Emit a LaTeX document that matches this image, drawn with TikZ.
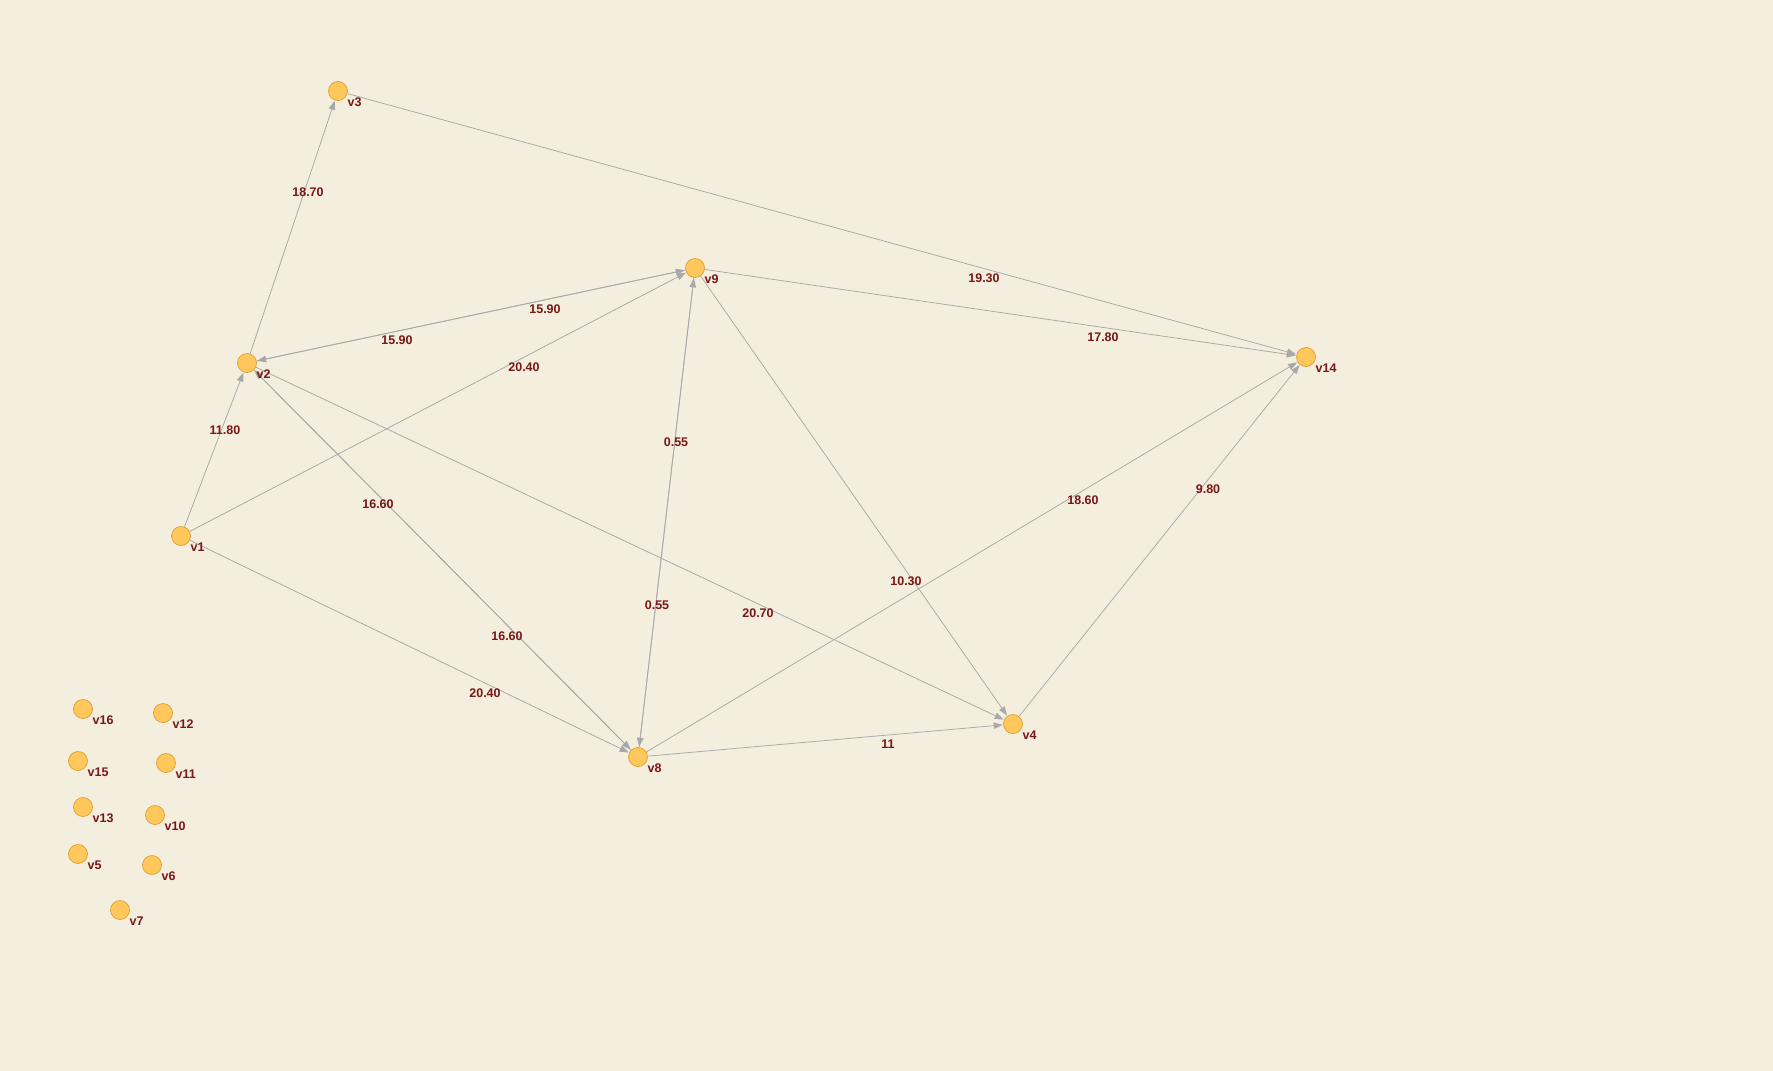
\documentclass[tikz,border=0pt]{standalone}
\usepackage{fontspec}
\setmainfont{Liberation Sans}
\usetikzlibrary{arrows.meta}
\definecolor{bg}{HTML}{F3EEDD}
\definecolor{nfill}{HTML}{FFC75C}
\definecolor{ndraw}{HTML}{DE9E2E}
\definecolor{lbl}{HTML}{7A1717}
\definecolor{edge}{HTML}{A8A8A8}
\tikzset{
  vert/.style={circle,fill=nfill,draw=ndraw,line width=0.7pt,minimum size=19pt,inner sep=0pt},
  vlab/.style={anchor=west,text=lbl,font=\fontsize{12.5}{14}\selectfont\bfseries,inner sep=0pt},
  elab/.style={text=lbl,font=\fontsize{12.5}{14}\selectfont\bfseries,inner sep=0pt},
  conn/.style={draw=edge,line width=0.75pt,-{Triangle[length=9pt,width=6.5pt]},shorten >=0.5pt}
}
\begin{document}
\begin{tikzpicture}[x=1pt,y=-1pt]
\fill[bg] (0,0) rectangle (1773,1071);
\useasboundingbox (0,0) rectangle (1773,1071);
% vertices
\node[vert] (v3) at (338,91) {};
\node[vert] (v2) at (247,363) {};
\node[vert] (v9) at (695,268) {};
\node[vert] (v14) at (1306,357) {};
\node[vert] (v1) at (181,536) {};
\node[vert] (v8) at (638,757) {};
\node[vert] (v4) at (1013,724) {};
\node[vert] (v16) at (83,709) {};
\node[vert] (v12) at (163,713) {};
\node[vert] (v15) at (78,761) {};
\node[vert] (v11) at (166,763) {};
\node[vert] (v13) at (83,807) {};
\node[vert] (v10) at (155,815) {};
\node[vert] (v5) at (78,854) {};
\node[vert] (v6) at (152,865) {};
\node[vert] (v7) at (120,910) {};
% edges
\draw[conn] (v2) -- (v3);
\draw[conn] (v1) -- (v2);
\draw[conn] (v9) -- (v2);
\draw[conn] (v2) -- (v9);
\draw[conn] (v1) -- (v9);
\draw[conn] (v3) -- (v14);
\draw[conn] (v9) -- (v14);
\draw[conn] (v9) -- (v8);
\draw[conn] (v8) -- (v9);
\draw[conn] (v2) -- (v8);
\draw[conn] (v8) -- (v2);
\draw[conn] (v2) -- (v4);
\draw[conn] (v1) -- (v8);
\draw[conn] (v9) -- (v4);
\draw[conn] (v8) -- (v14);
\draw[conn] (v4) -- (v14);
\draw[conn] (v8) -- (v4);
% vertex labels
\foreach \v in {v3,v2,v9,v14,v1,v8,v4,v16,v12,v15,v11,v13,v10,v5,v6,v7}{
  \node[vlab] (l\v) at ([shift={(9.5,11)}]\v.center) {\v};
}
% edge labels
\node[elab] (e1) at (308,192) {18.70};
\node[elab] (e2) at (225,430) {11.80};
\node[elab] (e3) at (397,340) {15.90};
\node[elab] (e4) at (545,309) {15.90};
\node[elab] (e5) at (524,367) {20.40};
\node[elab] (e6) at (984,278) {19.30};
\node[elab] (e7) at (1103,337) {17.80};
\node[elab] (e8) at (676,442) {0.55};
\node[elab] (e9) at (657,605) {0.55};
\node[elab] (e10) at (378,504) {16.60};
\node[elab] (e11) at (507,636) {16.60};
\node[elab] (e12) at (758,613) {20.70};
\node[elab] (e13) at (485,693) {20.40};
\node[elab] (e14) at (906,581) {10.30};
\node[elab] (e15) at (1083,500) {18.60};
\node[elab] (e16) at (1208,489) {9.80};
\node[elab] (e17) at (888,744) {11};
\end{tikzpicture}
\end{document}
